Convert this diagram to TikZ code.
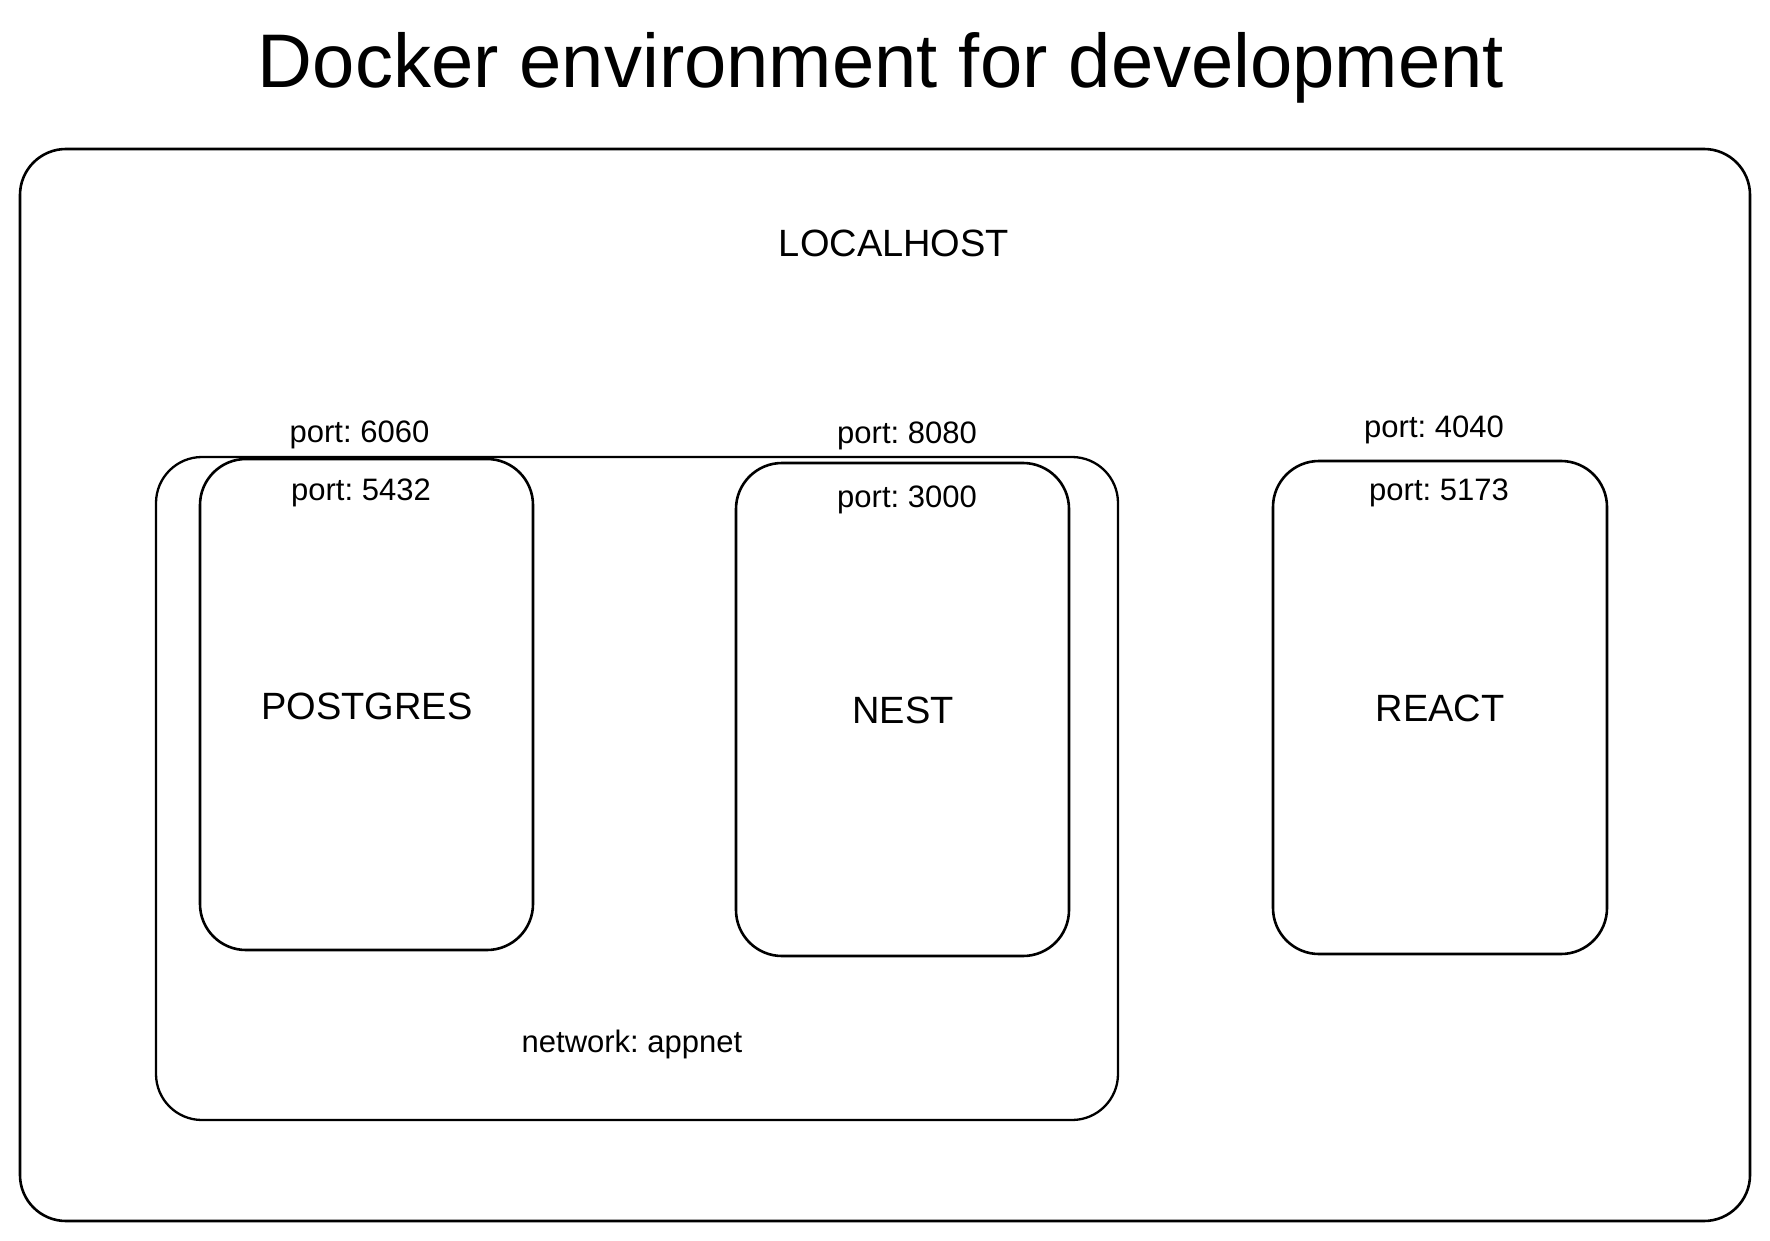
\documentclass[tikz,border=0pt]{standalone}
\usepackage{fontspec}
\setmainfont{Liberation Sans}
\frenchspacing
\begin{document}
\begin{tikzpicture}[x=1pt,y=-1pt,
  box/.style={draw=black, line width=2.6pt, rounded corners=46pt, inner sep=0pt},
  hand/.style={anchor=base, inner sep=0pt, font=\fontsize{38}{40}\selectfont},
  portlbl/.style={anchor=base, inner sep=0pt, font=\fontsize{31}{33}\selectfont},
  titletxt/.style={anchor=base, inner sep=0pt, font=\fontsize{76}{80}\selectfont}]
\useasboundingbox (0,0) rectangle (1770,1241);
\fill[white] (0,0) rectangle (1770,1241);
% title
\node[titletxt] (title) at (881,88) {Docker environment for development};
% outer localhost box
\node[box, minimum width=1730pt, minimum height=1072pt] (host) at (885,685) {};
\node[hand, font=\fontsize{38}{40}\selectfont] (hostlbl) at (894,257) {LOCALHOST};
% network box
\node[box, line width=2.3pt, minimum width=962pt, minimum height=663pt] (net) at (637,788.5) {};
\node[portlbl] (netlbl) at (632,1052) {network: appnet};
% containers
\node[box, minimum width=333pt, minimum height=491pt] (pg) at (366.5,704.5) {};
\node[box, minimum width=333pt, minimum height=493pt] (nest) at (902.5,709.5) {};
\node[box, minimum width=334pt, minimum height=493pt] (react) at (1440,707.5) {};
\node[hand] (pglbl) at (367,719) {POSTGRES};
\node[hand] (nestlbl) at (903,723) {NEST};
\node[hand] (reactlbl) at (1440,721) {REACT};
% ports
\node[portlbl] (p6060) at (359.5,442) {port: 6060};
\node[portlbl] (p5432) at (361,500) {port: 5432};
\node[portlbl] (p8080) at (907,443) {port: 8080};
\node[portlbl] (p3000) at (907,507) {port: 3000};
\node[portlbl] (p4040) at (1434,437) {port: 4040};
\node[portlbl] (p5173) at (1439,500) {port: 5173};
\end{tikzpicture}
\end{document}
